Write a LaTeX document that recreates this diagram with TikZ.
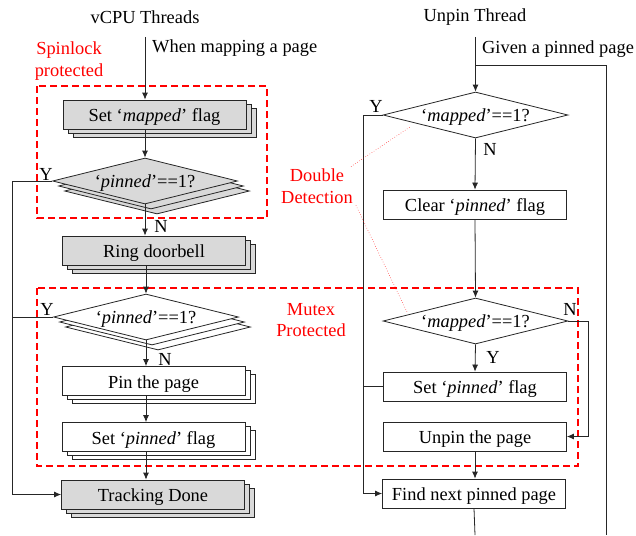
\documentclass[tikz,border=0pt]{standalone}
\usepackage{fontspec}
\setmainfont{Liberation Serif}
\usetikzlibrary{shapes.geometric,shadows,arrows.meta}
\begin{document}
\begin{tikzpicture}[x=1pt,y=-1pt,
  font=\fontsize{18.4}{21.5}\selectfont,
  line/.style={draw=black!85, line width=0.8pt},
  arr/.style={line, -{Latex[length=7pt,width=6pt]}},
  boxbase/.style={draw=black!85, line width=0.8pt, minimum width=183pt, minimum height=29pt, inner sep=0pt, text height=14pt, text depth=0pt},
  boxg/.style={boxbase, fill=gray!30, double copy shadow={shadow xshift=5pt, shadow yshift=-4pt, fill=gray!30, draw=black!85, line width=0.8pt}},
  boxw/.style={boxbase, fill=white, double copy shadow={shadow xshift=5pt, shadow yshift=-4pt, fill=white, draw=black!85, line width=0.8pt}},
  boxs/.style={boxbase, fill=white},
  diabase/.style={diamond, aspect=4, draw=black!85, line width=0.8pt, minimum width=185pt, minimum height=46pt, inner sep=0pt, text height=13pt, text depth=0pt},
  diag/.style={diabase, fill=gray!30, double copy shadow={shadow xshift=6pt, shadow yshift=-5pt, fill=gray!30, draw=black!85, line width=0.8pt}},
  diaw/.style={diabase, fill=white, double copy shadow={shadow xshift=6pt, shadow yshift=-5pt, fill=white, draw=black!85, line width=0.8pt}},
  dias/.style={diabase, fill=white},
  zone/.style={draw=red, line width=1.3pt, dash pattern=on 7pt off 4pt},
  redtxt/.style={text=red, align=center},
  lbl/.style={inner sep=0pt},
  dot/.style={draw=red, line width=0.5pt, dotted}
]
\useasboundingbox (0,0) rectangle (636,535);

% protection zones
\draw[zone] (37,86) rectangle (267,218);
\draw[zone] (37,288) rectangle (578,466);

% titles
\node[lbl] (tv) at (145,17) {vCPU Threads};
\node[lbl] (tu) at (475,17) {Unpin Thread};
\node[lbl, anchor=west] (wm) at (152,48) {When mapping a page};
\node[lbl, anchor=west] (gp) at (482,49) {Given a pinned page};
\node[redtxt, lbl] (spin) at (69,61) {Spinlock\\protected};
\node[redtxt, lbl] (dd) at (317,186) {Double\\Detection};
\node[redtxt, lbl] (mp) at (311,320) {Mutex\\Protected};

% left column
\node[boxg] (setm) at (154.5,114.5) {Set ‘\textit{mapped}’ flag};
\node[diag] (d1) at (145,181) {‘\textit{pinned}’==1?};
\node[boxg] (ring) at (154,250.5) {Ring doorbell};
\node[diaw] (d2) at (146,317) {‘\textit{pinned}’==1?};
\node[boxw] (pin) at (153.5,381) {Pin the page};
\node[boxw] (setpl) at (153.5,437) {Set ‘\textit{pinned}’ flag};
\node[boxg] (track) at (153,494.5) {Tracking Done};

% right column
\node[dias] (d3) at (475.5,115) {‘\textit{mapped}’==1?};
\node[boxs] (clear) at (475,204.5) {Clear ‘\textit{pinned}’ flag};
\node[dias] (d4) at (475.5,321) {‘\textit{mapped}’==1?};
\node[boxs] (setpr) at (475,386.5) {Set ‘\textit{pinned}’ flag};
\node[boxs] (unpin) at (475,436.5) {Unpin the page};
\node[boxs] (find) at (474,493.5) {Find next pinned page};

% helper coordinates
\coordinate (sl) at (145,37);
\coordinate (sr) at (475.5,37);
\coordinate (lx) at (12,0);
\coordinate (rx) at (363,0);
\coordinate (nx) at (588,0);
\coordinate (gx) at (606,65);
\coordinate (ge) at (606,535);
\coordinate (fe) at (475,535);

% left connectors
\draw[arr] (sl) -- (sl |- setm.north);
\draw[arr] (setm.south -| d1.north) -- (d1.north);
\draw[arr] (d1.south) -- (d1.south |- ring.north);
\draw[arr] (d1.west) -- (lx |- d1.west) |- (track.west);
\draw[arr] (ring.south -| d2.north) -- (d2.north);
\draw[line] (d2.west) -- (lx |- d2.west);
\draw[arr] (d2.south) -- (d2.south |- pin.north);
\draw[arr] (pin.south -| d2.south) -- (d2.south |- setpl.north);
\draw[arr] (setpl.south -| d2.south) -- (d2.south |- track.north);

% right connectors
\draw[arr] (sr) -- (d3.north);
\draw[line] (sr |- gx) -- (gx) -- (ge);
\draw[arr] (d3.west) -- (rx |- d3.west) |- (find.west);
\draw[arr] (d3.south) -- (clear.north);
\draw[arr] (clear.south) -- (d4.north);
\draw[arr] (d4.east) -- (nx |- d4.east) |- (unpin.east);
\draw[arr] (d4.south) -- (setpr.north);
\draw[line] (setpr.west) -- (rx |- setpr.west);
\draw[arr] (unpin.south) -- (find.north -| unpin.south);
\draw[line] (find.south) -- (fe);

% branch labels
\node[lbl] at (46,174) {Y};
\node[lbl] at (161,226) {N};
\node[lbl] at (47,309) {Y};
\node[lbl] at (165,359) {N};
\node[lbl] at (376,106) {Y};
\node[lbl] at (490,149) {N};
\node[lbl] at (570,309) {N};
\node[lbl] at (493,357) {Y};

% double detection pointers
\coordinate (p1) at (410,127);
\coordinate (p2) at (407,312);
\draw[dot] (dd.north east) ++(-2,-2) -- (p1);
\draw[dot] (dd.south east) ++(3,2) -- (p2);
\end{tikzpicture}
\end{document}
